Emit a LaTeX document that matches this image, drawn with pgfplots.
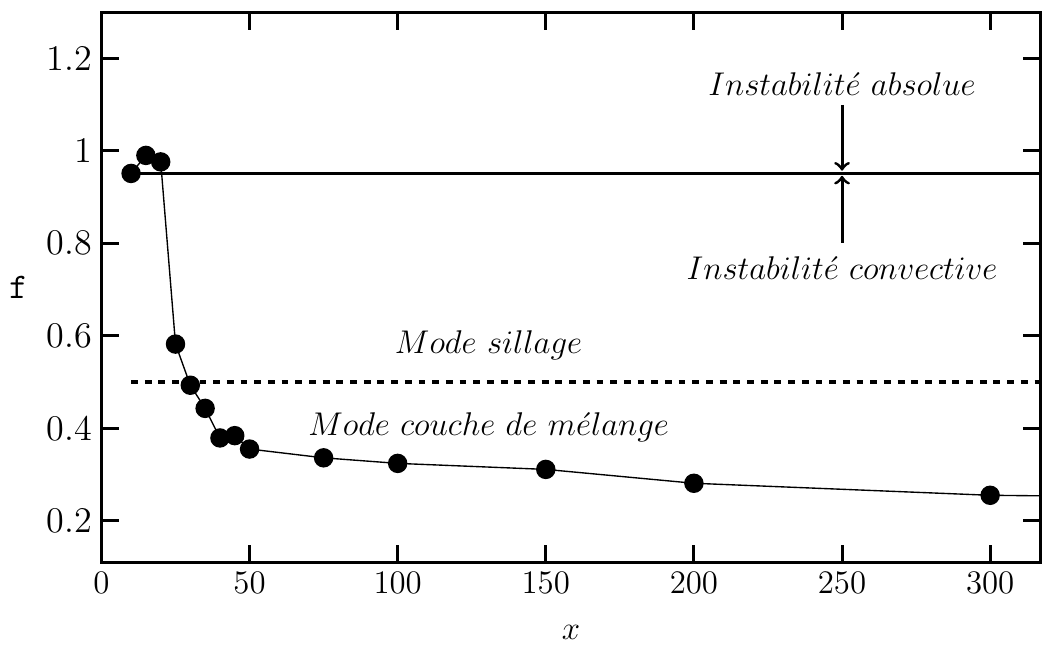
\documentclass[border=0pt]{standalone}
\usepackage{pgfplots}
\pgfplotsset{compat=1.18}
\begin{document}
\begin{tikzpicture}
\begin{axis}[
  scale only axis,
  width=343pt, height=201pt,
  xmin=0, xmax=317, ymin=0.11, ymax=1.3,
  xtick={0,50,100,150,200,250,300},
  ytick={0.2,0.4,0.6,0.8,1,1.2},
  yticklabels={0.2,0.4,0.6,0.8,1,1.2},
  tick align=inside,
  major tick length=6.5pt,
  minor tick num=0,
  axis line style={line width=1.1pt},
  every tick/.style={line width=1.1pt, black},
  tick label style={font=\fontsize{13.2}{15}\selectfont},
  label style={font=\fontsize{13.2}{15}\selectfont},
  xlabel={$x$},
  ylabel={\texttt{f}},
  ylabel style={rotate=-90},
  xlabel style={yshift=-5pt},
  clip=true,
]
\addplot[black, line width=1.1pt] coordinates {(10,0.95) (330,0.95)};
\addplot[black, line width=1.1pt, dash pattern=on 2.5pt off 2.5pt] coordinates {(10,0.5) (330,0.5)};
\addplot[black, line width=0.5pt, mark=*, mark size=3.3pt] coordinates {
(10,0.951) (15,0.990) (20,0.976) (25,0.582) (30,0.493) (35,0.443) (40,0.379) (45,0.384) (50,0.355) (75,0.336) (100,0.324) (150,0.311) (200,0.281) (300,0.255)};
\addplot[black, line width=0.5pt] coordinates {(300,0.255) (330,0.253)};
\draw[->, line width=1.1pt] (axis cs:250,1.099) -- (axis cs:250,0.957);
\draw[->, line width=1.1pt] (axis cs:250,0.801) -- (axis cs:250,0.946);
\node[font=\fontsize{11.8}{14}\selectfont] at (axis cs:250,1.144) {$Instabilit\acute{e}\ absolue$};
\node[font=\fontsize{11.8}{14}\selectfont] at (axis cs:250,0.746) {$Instabilit\acute{e}\ convective$};
\node[font=\fontsize{11.8}{14}\selectfont] at (axis cs:130.7,0.58) {$Mode\ sillage$};
\node[font=\fontsize{11.8}{14}\selectfont] at (axis cs:130.7,0.403) {$Mode\ couche\ de\ m\acute{e}lange$};
\end{axis}
\path (current axis.north) ++(0,4.4pt);
\end{tikzpicture}
\end{document}
